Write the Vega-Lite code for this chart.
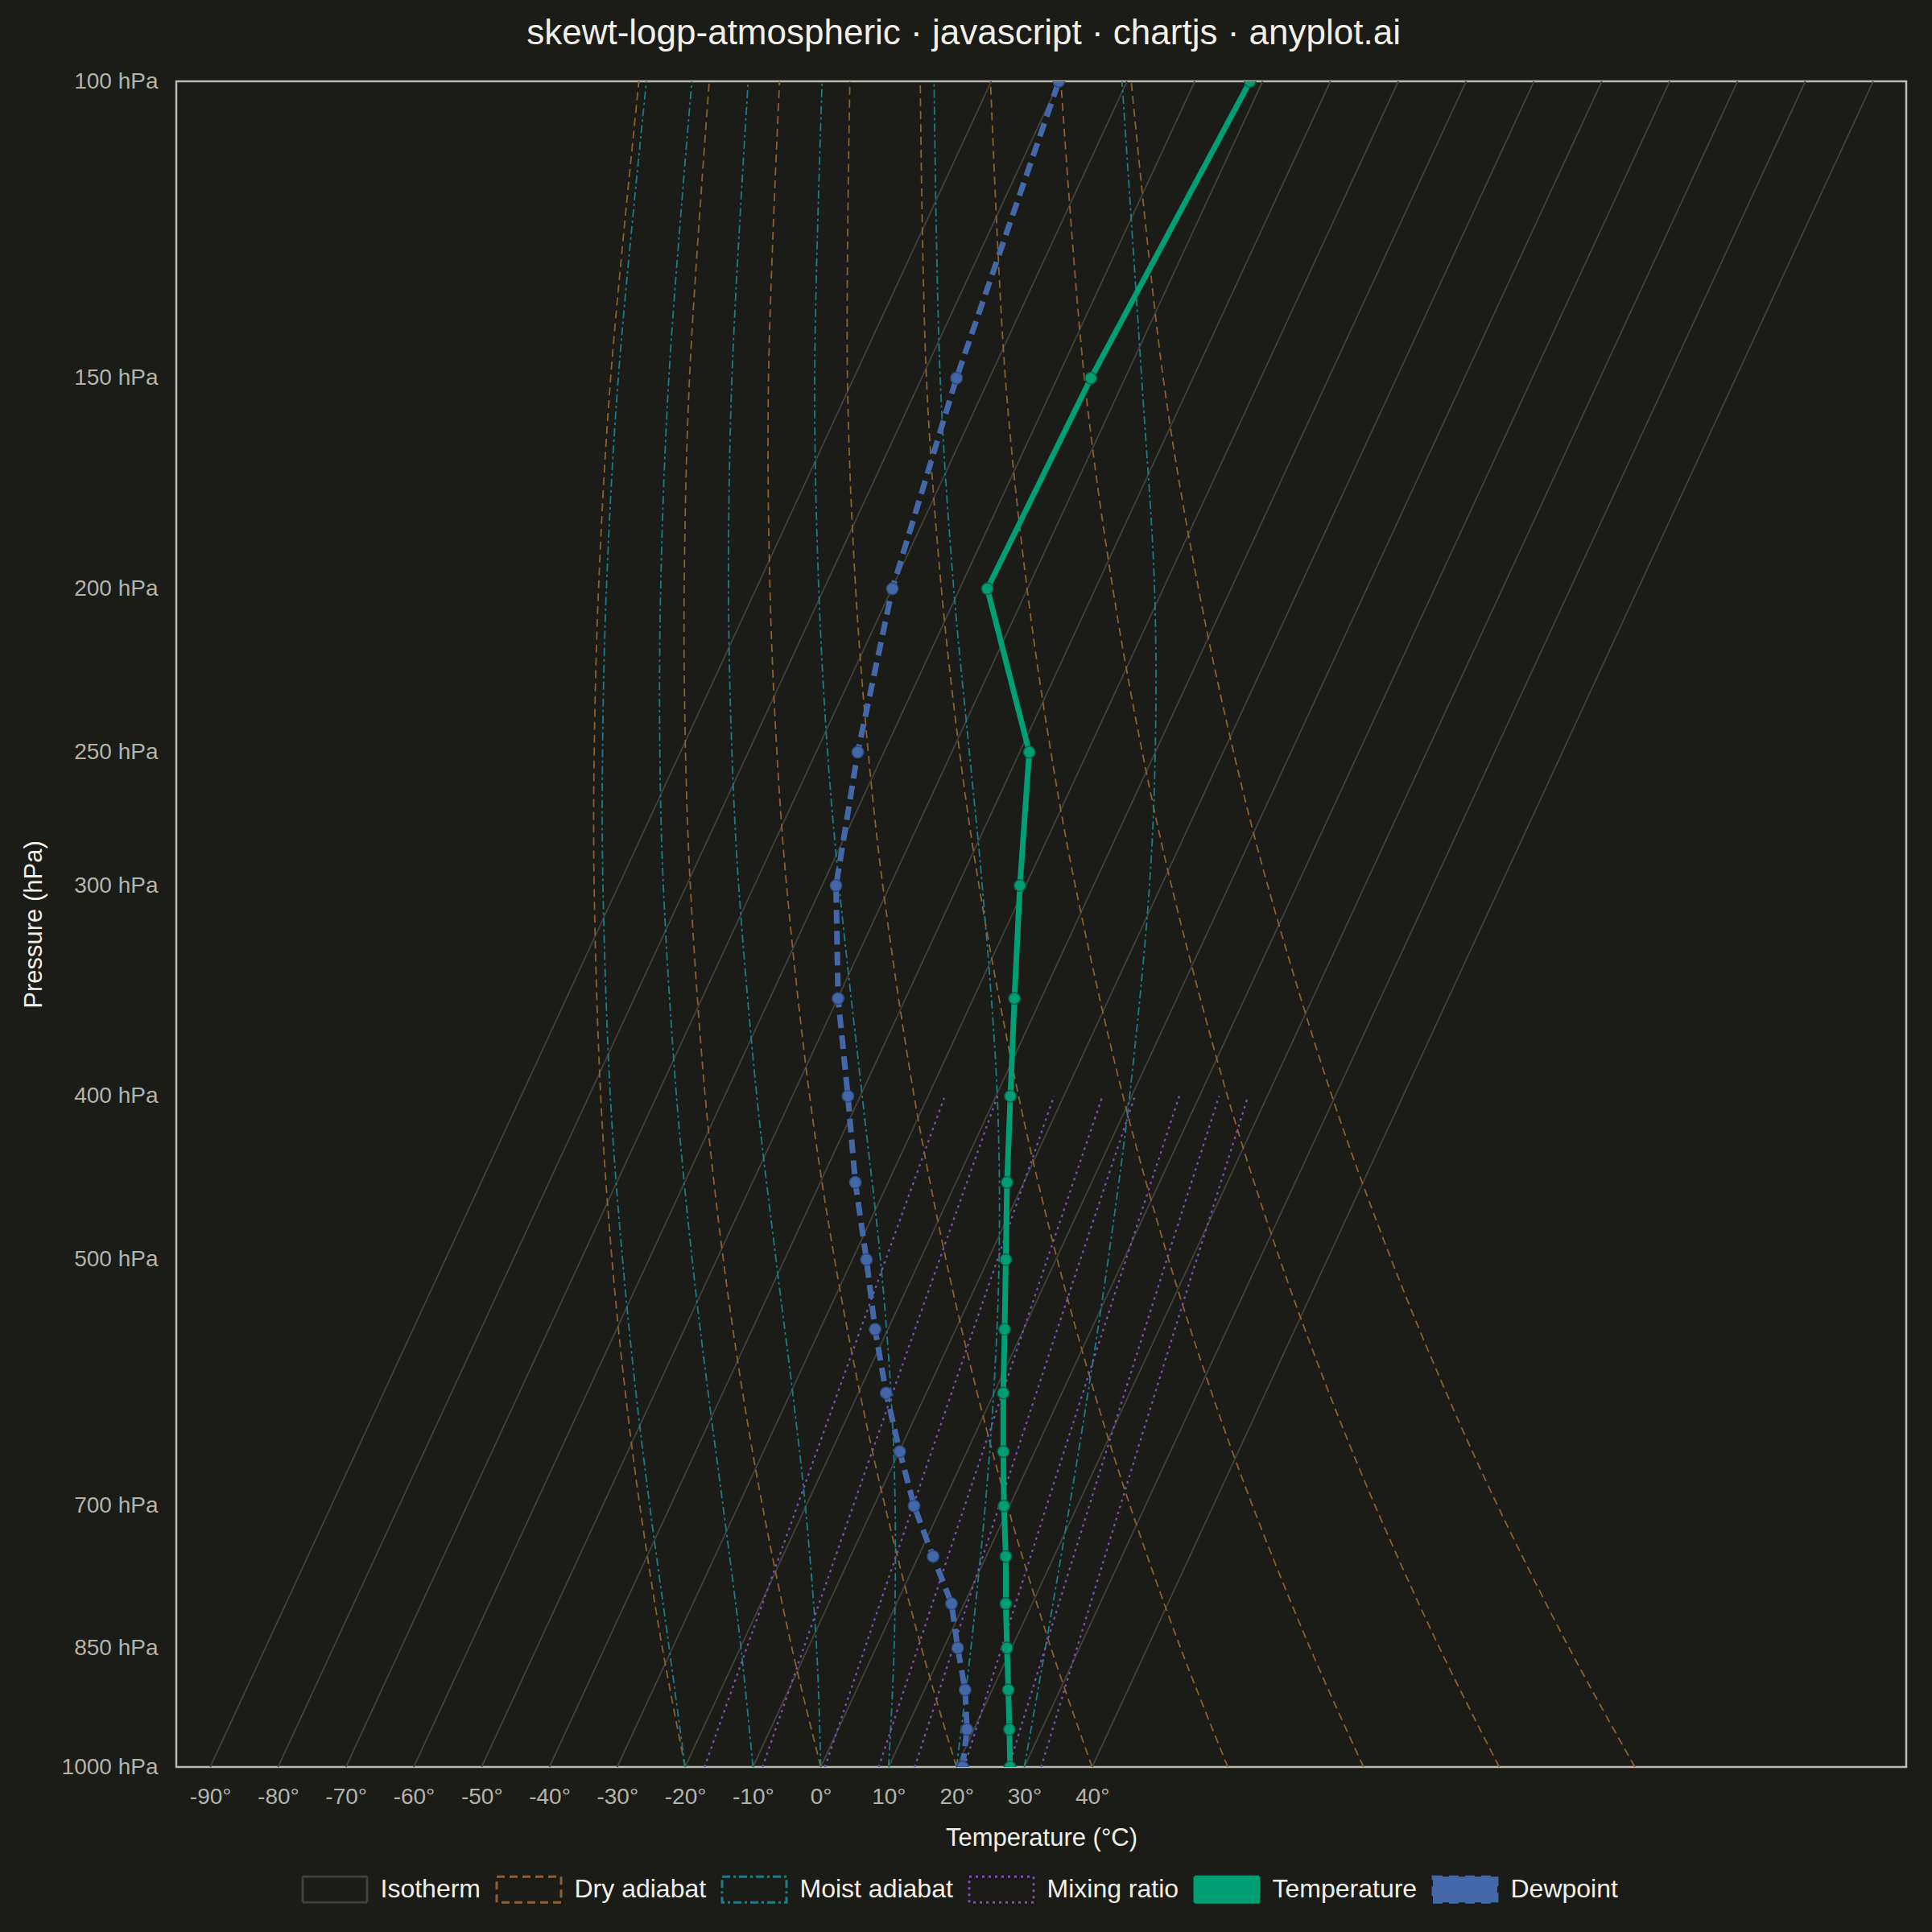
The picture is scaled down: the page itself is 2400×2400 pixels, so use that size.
{
  "$schema": "https://vega.github.io/schema/vega-lite/v6.json",
  "width": 2149,
  "height": 2094,
  "autosize": {"type": "none"},
  "padding": {"left": 219, "top": 101, "right": 32, "bottom": 205},
  "background": "#1b1b17",
  "title": {
    "text": "skewt-logp-atmospheric · javascript · chartjs · anyplot.ai",
    "fontSize": 44, "font": "Liberation Sans", "fontWeight": "normal", "color": "#f0efe8",
    "anchor": "middle", "frame": "bounds", "baseline": "alphabetic", "offset": -12
  },
  "config": {
    "view": {"stroke": "#bcbcb4", "strokeWidth": 2.5},
    "axis": {"labelFont": "Liberation Sans", "titleFont": "Liberation Sans", "grid": false, "ticks": false, "domain": false},
    "legend": {"labelFont": "Liberation Sans"}
  },
  "datasets": {
    "iso": [
      {"series":"Isotherm","line":"i-90","p":1000,"t":-90},{"series":"Isotherm","line":"i-90","p":100,"t":25.13},
      {"series":"Isotherm","line":"i-80","p":1000,"t":-80},{"series":"Isotherm","line":"i-80","p":100,"t":35.13},
      {"series":"Isotherm","line":"i-70","p":1000,"t":-70},{"series":"Isotherm","line":"i-70","p":100,"t":45.13},
      {"series":"Isotherm","line":"i-60","p":1000,"t":-60},{"series":"Isotherm","line":"i-60","p":100,"t":55.13},
      {"series":"Isotherm","line":"i-50","p":1000,"t":-50},{"series":"Isotherm","line":"i-50","p":100,"t":65.13},
      {"series":"Isotherm","line":"i-40","p":1000,"t":-40},{"series":"Isotherm","line":"i-40","p":100,"t":75.13},
      {"series":"Isotherm","line":"i-30","p":1000,"t":-30},{"series":"Isotherm","line":"i-30","p":100,"t":85.13},
      {"series":"Isotherm","line":"i-20","p":1000,"t":-20},{"series":"Isotherm","line":"i-20","p":100,"t":95.13},
      {"series":"Isotherm","line":"i-10","p":1000,"t":-10},{"series":"Isotherm","line":"i-10","p":100,"t":105.13},
      {"series":"Isotherm","line":"i0","p":1000,"t":0},{"series":"Isotherm","line":"i0","p":100,"t":115.13},
      {"series":"Isotherm","line":"i10","p":1000,"t":10},{"series":"Isotherm","line":"i10","p":100,"t":125.13},
      {"series":"Isotherm","line":"i20","p":1000,"t":20},{"series":"Isotherm","line":"i20","p":100,"t":135.13},
      {"series":"Isotherm","line":"i30","p":1000,"t":30},{"series":"Isotherm","line":"i30","p":100,"t":145.13},
      {"series":"Isotherm","line":"i40","p":1000,"t":40},{"series":"Isotherm","line":"i40","p":100,"t":155.13}
    ],
    "dry": [
      {"series":"Dry adiabat","line":"d-20","p":1000,"t":-20},{"series":"Dry adiabat","line":"d-20","p":850,"t":-23.35},{"series":"Dry adiabat","line":"d-20","p":700,"t":-26.67},{"series":"Dry adiabat","line":"d-20","p":600,"t":-28.8},{"series":"Dry adiabat","line":"d-20","p":500,"t":-30.78},{"series":"Dry adiabat","line":"d-20","p":400,"t":-32.44},{"series":"Dry adiabat","line":"d-20","p":300,"t":-33.41},{"series":"Dry adiabat","line":"d-20","p":250,"t":-33.4},{"series":"Dry adiabat","line":"d-20","p":200,"t":-32.76},{"series":"Dry adiabat","line":"d-20","p":150,"t":-30.98},{"series":"Dry adiabat","line":"d-20","p":100,"t":-26.81},
      {"series":"Dry adiabat","line":"d0","p":1000,"t":0},{"series":"Dry adiabat","line":"d0","p":850,"t":-4.26},{"series":"Dry adiabat","line":"d0","p":700,"t":-8.6},{"series":"Dry adiabat","line":"d0","p":600,"t":-11.51},{"series":"Dry adiabat","line":"d0","p":500,"t":-14.37},{"series":"Dry adiabat","line":"d0","p":400,"t":-17.04},{"series":"Dry adiabat","line":"d0","p":300,"t":-19.23},{"series":"Dry adiabat","line":"d0","p":250,"t":-19.94},{"series":"Dry adiabat","line":"d0","p":200,"t":-20.13},{"series":"Dry adiabat","line":"d0","p":150,"t":-19.35},{"series":"Dry adiabat","line":"d0","p":100,"t":-16.44},
      {"series":"Dry adiabat","line":"d20","p":1000,"t":20},{"series":"Dry adiabat","line":"d20","p":850,"t":14.84},{"series":"Dry adiabat","line":"d20","p":700,"t":9.46},{"series":"Dry adiabat","line":"d20","p":600,"t":5.77},{"series":"Dry adiabat","line":"d20","p":500,"t":2.04},{"series":"Dry adiabat","line":"d20","p":400,"t":-1.64},{"series":"Dry adiabat","line":"d20","p":300,"t":-5.04},{"series":"Dry adiabat","line":"d20","p":250,"t":-6.47},{"series":"Dry adiabat","line":"d20","p":200,"t":-7.49},{"series":"Dry adiabat","line":"d20","p":150,"t":-7.71},{"series":"Dry adiabat","line":"d20","p":100,"t":-6.08},
      {"series":"Dry adiabat","line":"d40","p":1000,"t":40},{"series":"Dry adiabat","line":"d40","p":850,"t":33.93},{"series":"Dry adiabat","line":"d40","p":700,"t":27.52},{"series":"Dry adiabat","line":"d40","p":600,"t":23.06},{"series":"Dry adiabat","line":"d40","p":500,"t":18.45},{"series":"Dry adiabat","line":"d40","p":400,"t":13.76},{"series":"Dry adiabat","line":"d40","p":300,"t":9.14},{"series":"Dry adiabat","line":"d40","p":250,"t":6.99},{"series":"Dry adiabat","line":"d40","p":200,"t":5.14},{"series":"Dry adiabat","line":"d40","p":150,"t":3.93},{"series":"Dry adiabat","line":"d40","p":100,"t":4.29},
      {"series":"Dry adiabat","line":"d60","p":1000,"t":60},{"series":"Dry adiabat","line":"d60","p":850,"t":53.03},{"series":"Dry adiabat","line":"d60","p":700,"t":45.59},{"series":"Dry adiabat","line":"d60","p":600,"t":40.34},{"series":"Dry adiabat","line":"d60","p":500,"t":34.86},{"series":"Dry adiabat","line":"d60","p":400,"t":29.16},{"series":"Dry adiabat","line":"d60","p":300,"t":23.32},{"series":"Dry adiabat","line":"d60","p":250,"t":20.46},{"series":"Dry adiabat","line":"d60","p":200,"t":17.78},{"series":"Dry adiabat","line":"d60","p":150,"t":15.57},{"series":"Dry adiabat","line":"d60","p":100,"t":14.66},
      {"series":"Dry adiabat","line":"d80","p":1000,"t":80},{"series":"Dry adiabat","line":"d80","p":850,"t":72.12},{"series":"Dry adiabat","line":"d80","p":700,"t":63.65},{"series":"Dry adiabat","line":"d80","p":600,"t":57.63},{"series":"Dry adiabat","line":"d80","p":500,"t":51.27},{"series":"Dry adiabat","line":"d80","p":400,"t":44.55},{"series":"Dry adiabat","line":"d80","p":300,"t":37.51},{"series":"Dry adiabat","line":"d80","p":250,"t":33.92},{"series":"Dry adiabat","line":"d80","p":200,"t":30.41},{"series":"Dry adiabat","line":"d80","p":150,"t":27.21},{"series":"Dry adiabat","line":"d80","p":100,"t":25.02},
      {"series":"Dry adiabat","line":"d100","p":1000,"t":100},{"series":"Dry adiabat","line":"d100","p":850,"t":91.21},{"series":"Dry adiabat","line":"d100","p":700,"t":81.72},{"series":"Dry adiabat","line":"d100","p":600,"t":74.92},{"series":"Dry adiabat","line":"d100","p":500,"t":67.68},{"series":"Dry adiabat","line":"d100","p":400,"t":59.95},{"series":"Dry adiabat","line":"d100","p":300,"t":51.69},{"series":"Dry adiabat","line":"d100","p":250,"t":47.39},{"series":"Dry adiabat","line":"d100","p":200,"t":43.05},{"series":"Dry adiabat","line":"d100","p":150,"t":38.85},{"series":"Dry adiabat","line":"d100","p":100,"t":35.39},
      {"series":"Dry adiabat","line":"d120","p":1000,"t":120},{"series":"Dry adiabat","line":"d120","p":850,"t":110.31},{"series":"Dry adiabat","line":"d120","p":700,"t":99.78},{"series":"Dry adiabat","line":"d120","p":600,"t":92.21},{"series":"Dry adiabat","line":"d120","p":500,"t":84.09},{"series":"Dry adiabat","line":"d120","p":400,"t":75.35},{"series":"Dry adiabat","line":"d120","p":300,"t":65.88},{"series":"Dry adiabat","line":"d120","p":250,"t":60.85},{"series":"Dry adiabat","line":"d120","p":200,"t":55.68},{"series":"Dry adiabat","line":"d120","p":150,"t":50.48},{"series":"Dry adiabat","line":"d120","p":100,"t":45.76}
    ],
    "moist": [
      {"series":"Moist adiabat","line":"m-20","p":1000,"t":-20},{"series":"Moist adiabat","line":"m-20","p":850,"t":-22.35},{"series":"Moist adiabat","line":"m-20","p":700,"t":-25.21},{"series":"Moist adiabat","line":"m-20","p":600,"t":-27.24},{"series":"Moist adiabat","line":"m-20","p":500,"t":-29.22},{"series":"Moist adiabat","line":"m-20","p":400,"t":-31.02},{"series":"Moist adiabat","line":"m-20","p":300,"t":-32.11},{"series":"Moist adiabat","line":"m-20","p":250,"t":-32.17},{"series":"Moist adiabat","line":"m-20","p":200,"t":-31.6},{"series":"Moist adiabat","line":"m-20","p":150,"t":-29.85},{"series":"Moist adiabat","line":"m-20","p":100,"t":-25.7},
      {"series":"Moist adiabat","line":"m-10","p":1000,"t":-10},{"series":"Moist adiabat","line":"m-10","p":850,"t":-11.76},{"series":"Moist adiabat","line":"m-10","p":700,"t":-14.41},{"series":"Moist adiabat","line":"m-10","p":600,"t":-16.6},{"series":"Moist adiabat","line":"m-10","p":500,"t":-18.96},{"series":"Moist adiabat","line":"m-10","p":400,"t":-21.27},{"series":"Moist adiabat","line":"m-10","p":300,"t":-23.21},{"series":"Moist adiabat","line":"m-10","p":250,"t":-23.72},{"series":"Moist adiabat","line":"m-10","p":200,"t":-23.6},{"series":"Moist adiabat","line":"m-10","p":150,"t":-22.4},{"series":"Moist adiabat","line":"m-10","p":100,"t":-19.0},
      {"series":"Moist adiabat","line":"m0","p":1000,"t":0},{"series":"Moist adiabat","line":"m0","p":850,"t":-0.62},{"series":"Moist adiabat","line":"m0","p":700,"t":-2.28},{"series":"Moist adiabat","line":"m0","p":600,"t":-4.14},{"series":"Moist adiabat","line":"m0","p":500,"t":-6.6},{"series":"Moist adiabat","line":"m0","p":400,"t":-9.43},{"series":"Moist adiabat","line":"m0","p":300,"t":-12.1},{"series":"Moist adiabat","line":"m0","p":250,"t":-13.1},{"series":"Moist adiabat","line":"m0","p":200,"t":-13.6},{"series":"Moist adiabat","line":"m0","p":150,"t":-13.1},{"series":"Moist adiabat","line":"m0","p":100,"t":-10.7},
      {"series":"Moist adiabat","line":"m10","p":1000,"t":10},{"series":"Moist adiabat","line":"m10","p":850,"t":10.81},{"series":"Moist adiabat","line":"m10","p":700,"t":10.96},{"series":"Moist adiabat","line":"m10","p":600,"t":10.34},{"series":"Moist adiabat","line":"m10","p":500,"t":8.8},{"series":"Moist adiabat","line":"m10","p":400,"t":6.11},{"series":"Moist adiabat","line":"m10","p":300,"t":2.7},{"series":"Moist adiabat","line":"m10","p":250,"t":1.0},{"series":"Moist adiabat","line":"m10","p":200,"t":-0.3},{"series":"Moist adiabat","line":"m10","p":150,"t":-0.9},{"series":"Moist adiabat","line":"m10","p":100,"t":0.2},
      {"series":"Moist adiabat","line":"m20","p":1000,"t":20},{"series":"Moist adiabat","line":"m20","p":850,"t":22.13},{"series":"Moist adiabat","line":"m20","p":700,"t":24.24},{"series":"Moist adiabat","line":"m20","p":600,"t":25.48},{"series":"Moist adiabat","line":"m20","p":500,"t":26.28},{"series":"Moist adiabat","line":"m20","p":400,"t":26.02},{"series":"Moist adiabat","line":"m20","p":300,"t":23.8},{"series":"Moist adiabat","line":"m20","p":250,"t":21.9},{"series":"Moist adiabat","line":"m20","p":200,"t":19.6},{"series":"Moist adiabat","line":"m20","p":150,"t":17.6},{"series":"Moist adiabat","line":"m20","p":100,"t":16.7},
      {"series":"Moist adiabat","line":"m30","p":1000,"t":30},{"series":"Moist adiabat","line":"m30","p":850,"t":33.1},{"series":"Moist adiabat","line":"m30","p":700,"t":36.67},{"series":"Moist adiabat","line":"m30","p":600,"t":39.38},{"series":"Moist adiabat","line":"m30","p":500,"t":42.36},{"series":"Moist adiabat","line":"m30","p":400,"t":45.52},{"series":"Moist adiabat","line":"m30","p":300,"t":48.45},{"series":"Moist adiabat","line":"m30","p":250,"t":49.3},{"series":"Moist adiabat","line":"m30","p":200,"t":49.2},{"series":"Moist adiabat","line":"m30","p":150,"t":47.3},{"series":"Moist adiabat","line":"m30","p":100,"t":44.4}
    ],
    "mix": [
      {"series":"Mixing ratio","line":"w1","p":1000,"t":-17.13},{"series":"Mixing ratio","line":"w1","p":850,"t":-10.92},{"series":"Mixing ratio","line":"w1","p":700,"t":-3.46},{"series":"Mixing ratio","line":"w1","p":600,"t":2.49},{"series":"Mixing ratio","line":"w1","p":500,"t":9.57},{"series":"Mixing ratio","line":"w1","p":400,"t":18.27},
      {"series":"Mixing ratio","line":"w2","p":1000,"t":-8.58},{"series":"Mixing ratio","line":"w2","p":850,"t":-2.52},{"series":"Mixing ratio","line":"w2","p":700,"t":4.77},{"series":"Mixing ratio","line":"w2","p":600,"t":10.59},{"series":"Mixing ratio","line":"w2","p":500,"t":17.51},{"series":"Mixing ratio","line":"w2","p":400,"t":26.04},
      {"series":"Mixing ratio","line":"w4","p":1000,"t":0.62},{"series":"Mixing ratio","line":"w4","p":850,"t":6.51},{"series":"Mixing ratio","line":"w4","p":700,"t":13.61},{"series":"Mixing ratio","line":"w4","p":600,"t":19.28},{"series":"Mixing ratio","line":"w4","p":500,"t":26.04},{"series":"Mixing ratio","line":"w4","p":400,"t":34.37},
      {"series":"Mixing ratio","line":"w7","p":1000,"t":8.55},{"series":"Mixing ratio","line":"w7","p":850,"t":14.3},{"series":"Mixing ratio","line":"w7","p":700,"t":21.22},{"series":"Mixing ratio","line":"w7","p":600,"t":26.77},{"series":"Mixing ratio","line":"w7","p":500,"t":33.37},{"series":"Mixing ratio","line":"w7","p":400,"t":41.52},
      {"series":"Mixing ratio","line":"w10","p":1000,"t":13.86},{"series":"Mixing ratio","line":"w10","p":850,"t":19.5},{"series":"Mixing ratio","line":"w10","p":700,"t":26.31},{"series":"Mixing ratio","line":"w10","p":600,"t":31.77},{"series":"Mixing ratio","line":"w10","p":500,"t":38.27},{"series":"Mixing ratio","line":"w10","p":400,"t":46.3},
      {"series":"Mixing ratio","line":"w16","p":1000,"t":21.14},{"series":"Mixing ratio","line":"w16","p":850,"t":26.65},{"series":"Mixing ratio","line":"w16","p":700,"t":33.3},{"series":"Mixing ratio","line":"w16","p":600,"t":38.62},{"series":"Mixing ratio","line":"w16","p":500,"t":44.98},{"series":"Mixing ratio","line":"w16","p":400,"t":52.84},
      {"series":"Mixing ratio","line":"w24","p":1000,"t":27.7},{"series":"Mixing ratio","line":"w24","p":850,"t":33.08},{"series":"Mixing ratio","line":"w24","p":700,"t":39.57},{"series":"Mixing ratio","line":"w24","p":600,"t":44.78},{"series":"Mixing ratio","line":"w24","p":500,"t":51.01},{"series":"Mixing ratio","line":"w24","p":400,"t":58.71},
      {"series":"Mixing ratio","line":"w32","p":1000,"t":32.49},{"series":"Mixing ratio","line":"w32","p":850,"t":37.77},{"series":"Mixing ratio","line":"w32","p":700,"t":44.15},{"series":"Mixing ratio","line":"w32","p":600,"t":49.28},{"series":"Mixing ratio","line":"w32","p":500,"t":55.4},{"series":"Mixing ratio","line":"w32","p":400,"t":62.98}
    ],
    "temp": [
      {"series":"Temperature","p":1000,"t":27.9},{"series":"Temperature","p":950,"t":27.8},{"series":"Temperature","p":900,"t":27.64},{"series":"Temperature","p":850,"t":27.45},{"series":"Temperature","p":800,"t":27.27},{"series":"Temperature","p":750,"t":27.27},{"series":"Temperature","p":700,"t":27.0},{"series":"Temperature","p":650,"t":26.9},{"series":"Temperature","p":600,"t":26.9},{"series":"Temperature","p":550,"t":27.1},{"series":"Temperature","p":500,"t":27.27},{"series":"Temperature","p":450,"t":27.45},{"series":"Temperature","p":400,"t":27.95},{"series":"Temperature","p":350,"t":28.55},{"series":"Temperature","p":300,"t":29.35},{"series":"Temperature","p":250,"t":30.73},{"series":"Temperature","p":200,"t":24.55},{"series":"Temperature","p":150,"t":39.82},{"series":"Temperature","p":100,"t":63.27}
    ],
    "dew": [
      {"series":"Dewpoint","p":1000,"t":20.9},{"series":"Dewpoint","p":950,"t":21.55},{"series":"Dewpoint","p":900,"t":21.27},{"series":"Dewpoint","p":850,"t":20.18},{"series":"Dewpoint","p":800,"t":19.27},{"series":"Dewpoint","p":750,"t":16.55},{"series":"Dewpoint","p":700,"t":13.75},{"series":"Dewpoint","p":650,"t":11.64},{"series":"Dewpoint","p":600,"t":9.64},{"series":"Dewpoint","p":550,"t":8.0},{"series":"Dewpoint","p":500,"t":6.73},{"series":"Dewpoint","p":450,"t":5.09},{"series":"Dewpoint","p":400,"t":4.0},{"series":"Dewpoint","p":350,"t":2.55},{"series":"Dewpoint","p":300,"t":2.25},{"series":"Dewpoint","p":250,"t":5.45},{"series":"Dewpoint","p":200,"t":10.55},{"series":"Dewpoint","p":150,"t":20.0},{"series":"Dewpoint","p":100,"t":35.09}
    ]
  },
  "encoding": {
    "x": {
      "field": "t", "type": "quantitative",
      "scale": {"domain": [-95, 160], "nice": false, "zero": false},
      "axis": {
        "values": [-90,-80,-70,-60,-50,-40,-30,-20,-10,0,10,20,30,40],
        "labelExpr": "datum.value + '°'",
        "labelFontSize": 28, "labelColor": "#b4b4ac", "labelPadding": 23,
        "title": "Temperature (°C)", "titleFontSize": 31, "titleFontWeight": "normal", "titleColor": "#f0efe8", "titlePadding": 22
      }
    },
    "y": {
      "field": "p", "type": "quantitative",
      "scale": {"type": "log", "domain": [100, 1000], "reverse": true, "nice": false},
      "axis": {
        "values": [100,150,200,250,300,400,500,700,850,1000],
        "labelExpr": "datum.value + ' hPa'",
        "labelFontSize": 28, "labelColor": "#b4b4ac", "labelPadding": 23,
        "title": "Pressure (hPa)", "titleFontSize": 31, "titleFontWeight": "normal", "titleColor": "#f0efe8", "titlePadding": 18
      }
    },
    "order": {"field": "p", "type": "quantitative", "sort": "descending"}
  },
  "layer": [
    {
      "data": {"name": "iso"},
      "mark": {"type": "line", "strokeWidth": 1.8},
      "encoding": {
        "detail": {"field": "line"},
        "color": {
          "field": "series", "type": "nominal",
          "scale": {
            "domain": ["Isotherm","Dry adiabat","Moist adiabat","Mixing ratio","Temperature","Dewpoint"],
            "range": ["#42423c","#8a6230","#1c7d88","#7e4fae","#009E73","#4467A8"]
          },
          "legend": {
            "orient": "none", "legendX": 155.5, "legendY": 2204.5, "direction": "horizontal", "columns": 6,
            "title": null, "padding": 0,
            "symbolType": "M-1,-0.4H1V0.4H-1Z", "symbolSize": 6400, "symbolStrokeWidth": 3,
            "labelFontSize": 32, "labelColor": "#f0efe8", "labelOffset": 15, "labelLimit": 600, "columnPadding": 13,
            "encode": {
              "symbols": {
                "update": {
                  "fill": {"signal": "datum.value === 'Temperature' ? '#009E73' : datum.value === 'Dewpoint' ? '#4467A8' : '#1b1b17'"},
                  "fillOpacity": {"value": 1},
                  "opacity": {"value": 1},
                  "strokeDash": {"signal": "datum.value === 'Dry adiabat' ? [10,6] : datum.value === 'Moist adiabat' ? [10,4,3,4] : datum.value === 'Mixing ratio' ? [3,5] : datum.value === 'Dewpoint' ? [12,8] : [1,0]"}
                }
              }
            }
          }
        }
      }
    },
    {
      "data": {"name": "dry"},
      "mark": {"type": "line", "strokeWidth": 1.8, "strokeDash": [10, 6], "interpolate": "catmull-rom"},
      "encoding": {"detail": {"field": "line"}, "color": {"field": "series", "type": "nominal"}}
    },
    {
      "data": {"name": "moist"},
      "mark": {"type": "line", "strokeWidth": 1.8, "strokeDash": [10, 4, 3, 4], "interpolate": "catmull-rom"},
      "encoding": {"detail": {"field": "line"}, "color": {"field": "series", "type": "nominal"}}
    },
    {
      "data": {"name": "mix"},
      "mark": {"type": "line", "strokeWidth": 2.3, "strokeDash": [3, 5], "interpolate": "catmull-rom"},
      "encoding": {"detail": {"field": "line"}, "color": {"field": "series", "type": "nominal"}}
    },
    {
      "data": {"name": "temp"},
      "mark": {"type": "line", "strokeWidth": 7, "clip": true},
      "encoding": {"color": {"field": "series", "type": "nominal"}}
    },
    {
      "data": {"name": "dew"},
      "mark": {"type": "line", "strokeWidth": 7, "strokeDash": [17, 9], "clip": true},
      "encoding": {"color": {"field": "series", "type": "nominal"}}
    },
    {
      "data": {"name": "temp"},
      "mark": {"type": "point", "filled": true, "size": 210, "fill": "#009E73", "stroke": "#0a5c45", "strokeWidth": 1.5, "opacity": 1, "clip": true}
    },
    {
      "data": {"name": "dew"},
      "mark": {"type": "point", "filled": true, "size": 210, "fill": "#4467A8", "stroke": "#2e4a7e", "strokeWidth": 1.5, "opacity": 1, "clip": true}
    }
  ]
}
